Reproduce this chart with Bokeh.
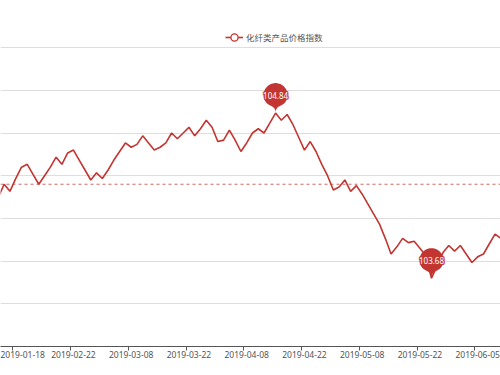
import numpy as np
from bokeh.plotting import figure
from bokeh.models import Range1d, FixedTicker, Span, Legend, LegendItem, LinearAxis
from bokeh.core.properties import value
from bokeh.embed import file_html
from bokeh.resources import INLINE

# ---------------- data ----------------
DATES = [
    "2019-01-15", "2019-01-16", "2019-01-17", "2019-01-18", "2019-01-21", "2019-01-22",
    "2019-01-23", "2019-01-24", "2019-01-25", "2019-01-28", "2019-01-29", "2019-01-30",
    "2019-01-31", "2019-02-22", "2019-02-25", "2019-02-26", "2019-02-27", "2019-02-28",
    "2019-03-01", "2019-03-04", "2019-03-05", "2019-03-06", "2019-03-07", "2019-03-08",
    "2019-03-11", "2019-03-12", "2019-03-13", "2019-03-14", "2019-03-15", "2019-03-18",
    "2019-03-19", "2019-03-20", "2019-03-21", "2019-03-22", "2019-03-25", "2019-03-26",
    "2019-03-27", "2019-03-28", "2019-03-29", "2019-04-01", "2019-04-02", "2019-04-03",
    "2019-04-04", "2019-04-08", "2019-04-09", "2019-04-10", "2019-04-11", "2019-04-12",
    "2019-04-15", "2019-04-16", "2019-04-17", "2019-04-18", "2019-04-19", "2019-04-22",
    "2019-04-23", "2019-04-24", "2019-04-25", "2019-04-26", "2019-04-29", "2019-04-30",
    "2019-05-05", "2019-05-06", "2019-05-07", "2019-05-08", "2019-05-09", "2019-05-10",
    "2019-05-13", "2019-05-14", "2019-05-15", "2019-05-16", "2019-05-17", "2019-05-20",
    "2019-05-21", "2019-05-22", "2019-05-23", "2019-05-24", "2019-05-27", "2019-05-28",
    "2019-05-29", "2019-05-30", "2019-05-31", "2019-06-03", "2019-06-04", "2019-06-05",
    "2019-06-06", "2019-06-10", "2019-06-11", "2019-06-12",
]
INDEX_VALUES = [
    104.25, 104.34, 104.29, 104.38, 104.46, 104.48, 104.41, 104.34, 104.40, 104.46,
    104.53, 104.48, 104.56, 104.58, 104.51, 104.44, 104.37, 104.42, 104.38, 104.44,
    104.51, 104.57, 104.63, 104.60, 104.62, 104.68, 104.63, 104.58, 104.60, 104.63,
    104.70, 104.66, 104.70, 104.74, 104.68, 104.73, 104.79, 104.74, 104.64, 104.65,
    104.72, 104.65, 104.57, 104.63, 104.70, 104.73, 104.70, 104.77, 104.84, 104.79,
    104.83, 104.76, 104.67, 104.58, 104.64, 104.57, 104.48, 104.40, 104.30, 104.32,
    104.37, 104.29, 104.33, 104.27, 104.20, 104.13, 104.06, 103.96, 103.85, 103.90,
    103.96, 103.93, 103.94, 103.89, 103.84, 103.68, 103.77, 103.86, 103.91, 103.87,
    103.91, 103.85, 103.79, 103.83, 103.85, 103.92, 103.99, 103.96,
]
LABEL_DATES = ["2019-01-18", "2019-02-22", "2019-03-08", "2019-03-22", "2019-04-08",
               "2019-04-22", "2019-05-08", "2019-05-22", "2019-06-05"]
Y_GRID = [103.5, 103.8, 104.1, 104.4, 104.7, 105.0, 105.3]
AVERAGE = 104.34
SERIES_NAME = "化纤类产品价格指数"

# ---------------- layout / style ----------------
RED = "#c23531"
W, H = 500, 375
BOTTOM = 29
X0, X1 = 0.368, 86.95
Y0, Y1 = 103.2, 105.631
PX_X = W / (X1 - X0)
PX_Y = (H - BOTTOM) / (Y1 - Y0)
FONT = "Noto Sans"
CJK = "Noto Sans CJK SC"

xs = np.arange(len(DATES))
vals = np.array(INDEX_VALUES)

p = figure(width=W, height=H, output_backend="svg", toolbar_location=None,
           x_range=Range1d(X0, X1), y_range=Range1d(Y0, Y1),
           x_axis_location=None, y_axis_location=None,
           min_border_left=0, min_border_right=0, min_border_top=0, min_border_bottom=BOTTOM,
           background_fill_color="white", border_fill_color="white", outline_line_color=None)

p.xgrid.visible = False
p.ygrid.ticker = FixedTicker(ticks=Y_GRID)
p.ygrid.grid_line_color = "#dedede"
p.ygrid.grid_line_width = 1

label_pos = [DATES.index(d) for d in LABEL_DATES]

# axis with tick marks at band boundaries
tick_axis = LinearAxis(ticker=FixedTicker(ticks=[t - 0.5 for t in label_pos]),
                       axis_line_color="#555", major_tick_line_color="#555",
                       major_tick_out=4, major_tick_in=0, minor_tick_line_color=None,
                       major_label_text_font_size="0px", major_label_standoff=0,
                       major_label_overrides={t - 0.5: "" for t in label_pos})
p.add_layout(tick_axis, "below")
# axis with labels at band centres
lab_axis = LinearAxis(ticker=FixedTicker(ticks=label_pos),
                      axis_line_color=None, major_tick_line_color=None,
                      major_tick_out=0, major_tick_in=0, minor_tick_line_color=None,
                      major_label_overrides={t: d for t, d in zip(label_pos, LABEL_DATES)},
                      major_label_text_font_size="8.5px", major_label_text_color="#555",
                      major_label_text_font=FONT, major_label_standoff=0)
p.add_layout(lab_axis, "below")

# average mark line
p.add_layout(Span(location=AVERAGE, dimension="width", line_color=RED, line_alpha=0.75,
                  line_dash="3 3", line_width=1))

line_r = p.line(xs, vals, line_color=RED, line_width=1.6)
legend_marker = p.scatter(x=np.array([np.nan]), y=np.array([np.nan]), marker="circle",
                          size=9, fill_color="white", line_color=RED, line_width=1.3)


def pin_shape(w, h):
    """ECharts-like pin outline in screen px, tip at (0,0), y downward."""
    r = w / 2
    dy = r * r / (h - r)
    cy = -h + r + dy
    a = np.arcsin(dy / r)
    dx = np.cos(a) * r
    tx, ty = np.sin(a), np.cos(a)
    cp, cp2 = r * 0.6, r * 0.7
    th = np.linspace(np.pi - a, 2 * np.pi + a, 48)
    px = list(r * np.cos(th))
    py = list(cy + r * np.sin(th))
    t = np.linspace(0, 1, 20)[1:]

    def bez(p0, p1, p2, p3):
        bx = (1 - t) ** 3 * p0[0] + 3 * (1 - t) ** 2 * t * p1[0] + 3 * (1 - t) * t ** 2 * p2[0] + t ** 3 * p3[0]
        by = (1 - t) ** 3 * p0[1] + 3 * (1 - t) ** 2 * t * p1[1] + 3 * (1 - t) * t ** 2 * p2[1] + t ** 3 * p3[1]
        return list(bx), list(by)

    bx, by = bez((dx, cy + dy), (dx - tx * cp, cy + dy + ty * cp), (0, -cp2), (0, 0))
    px += bx; py += by
    bx, by = bez((0, 0), (0, -cp2), (-dx + tx * cp, cy + dy + ty * cp), (-dx, cy + dy))
    px += bx; py += by
    return np.array(px), np.array(py), cy


PIN_W, PIN_H = 24, 36
spx, spy, scy = pin_shape(PIN_W, PIN_H)
OUTLINE = [(-1, 0), (1, 0), (0, -1), (0, 1), (-1, -1), (1, 1), (-1, 1), (1, -1)]
for idx in (int(np.argmax(vals)), int(np.argmin(vals))):
    xi, vi = xs[idx], vals[idx]
    p.patch(xi + spx / PX_X, vi - spy / PX_Y, fill_color=RED, line_color=None)
    ly = vi - scy / PX_Y
    label = f"{vi:.2f}"
    for ox, oy in OUTLINE:
        p.text(x=[xi], y=[ly], text=[label], text_color=RED, x_offset=ox, y_offset=oy,
               text_font=value(FONT), text_font_size="8px",
               text_align="center", text_baseline="middle")
    p.text(x=[xi], y=[ly], text=[label], text_color="white",
           text_font=value(FONT), text_font_size="8px",
           text_align="center", text_baseline="middle")

legend = Legend(items=[LegendItem(label=SERIES_NAME, renderers=[line_r, legend_marker])],
                location=(225, 299), orientation="horizontal",
                glyph_width=18, glyph_height=20, label_standoff=3, label_height=20,
                padding=0, margin=0, spacing=0,
                border_line_color=None, background_fill_alpha=0,
                label_text_font=CJK, label_text_font_size="8.5px", label_text_color="#555")
p.add_layout(legend)

open("out.html", "w").write(file_html(p, INLINE))
